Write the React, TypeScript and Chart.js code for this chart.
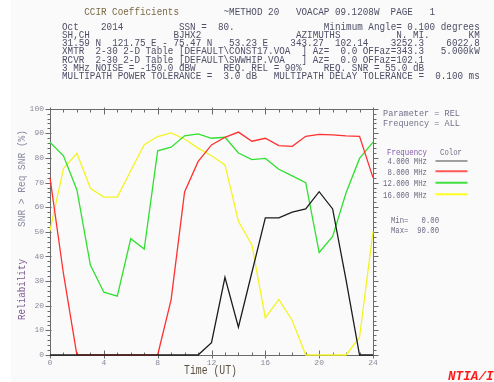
import React, { useEffect, useRef } from "react";
import { Chart, registerables } from "chart.js";

Chart.register(...registerables);

// ---------- data ----------
const hours = [0, 1, 2, 3, 4, 5, 6, 7, 8, 9, 10, 11, 12, 13, 14, 15, 16, 17, 18, 19, 20, 21, 22, 23, 24];
const rel4MHz = [0, 0, 0, 0, 0, 0, 0, 0, 0, 0, 0, 0, 5, 31.5, 11.3, 33.5, 55.7, 55.7, 58, 59.3, 66.3, 59.3, 30.4, 0, 0];
const rel8MHz = [72, 33, 0, 0, 0, 0, 0, 0, 0, 22.5, 66.2, 78.5, 85.3, 88.4, 90.5, 86.8, 88, 85, 84.7, 88.8, 89.6, 89.4, 89, 88.8, 72];
const rel12MHz = [86.4, 80.9, 67, 36.5, 25.5, 23.9, 47.2, 43, 82.9, 84.4, 89, 89.8, 88, 88.4, 82, 79.3, 79.8, 75.4, 72.7, 70, 41.6, 48.1, 65.9, 79.8, 86.4];
const rel16MHz = [50.5, 75.7, 81.9, 67.7, 64.1, 64.1, 74.8, 85.4, 88.7, 90.2, 87.7, 84, 80.9, 77.2, 54.3, 44.7, 15.1, 22.6, 14, 0, 0, 0, 0, 7.2, 50.2];
const seriesLabels = ["4.000 MHz", "8.000 MHz", "12.000 MHz", "16.000 MHz"];
const xTickValues = [0, 4, 8, 12, 16, 20, 24];
const yTickValues = [0, 10, 20, 30, 40, 50, 60, 70, 80, 90, 100];

// header text lines (fixed-column report)
const titleMain = "CCIR Coefficients";
const titleRest = "~METHOD 20   VOACAP 09.1208W  PAGE   1";
const headerLines = [
  "Oct    2014          SSN =  80.                Minimum Angle= 0.100 degrees",
  "SH,CH               BJHX2                 AZIMUTHS          N. MI.       KM",
  "31.59 N  121.75 E - 75.47 N   53.23 E    343.27  102.14    3252.3    6022.8",
  "XMTR  2-30 2-D Table [DEFAULT\\CONST17.VOA  ] Az=  0.0 OFFaz=343.3   5.000kW",
  "RCVR  2-30 2-D Table [DEFAULT\\SWWHIP.VOA   ] Az=  0.0 OFFaz=102.1",
  "3 MHz NOISE = -150.0 dBW     REQ. REL = 90%    REQ. SNR = 55.0 dB",
  "MULTIPATH POWER TOLERANCE =  3.0 dB   MULTIPATH DELAY TOLERANCE =  0.100 ms",
];

// ---------- styles / layout ----------
const lineColors = ["#1c1c1c", "#ff3030", "#30e030", "#f4f424"];
const swatchColors = ["#a0a0a0", "#ff5a5a", "#40e040", "#ffff20"];
const HEADER_FILL = "#4e4e66";
const MONO = "'Liberation Mono', 'DejaVu Sans Mono', monospace";
const HFS = 10.2;
const CW = 5.57;
const HX = 62;
const headerBaselines = [30, 38.2, 46.2, 54.4, 62.5, 70.5, 78.5];

const framePlugin = {
  id: "voacapFrame",
  beforeDatasetsDraw(chart: any) {
    const { ctx, chartArea } = chart;
    const xs = chart.scales.x;
    const ys = chart.scales.y;
    const L = Math.round(chartArea.left) + 0.5;
    const R = Math.round(chartArea.right) + 0.5;
    const T = Math.round(chartArea.top) + 0.5;
    const B = Math.round(chartArea.bottom) + 0.5;
    ctx.save();
    ctx.lineWidth = 1;
    ctx.strokeStyle = "#6a6a6a";
    ctx.beginPath();
    ctx.rect(L, T, R - L, B - T);
    ctx.stroke();
    ctx.beginPath();
    for (let v = 0; v <= 100; v += 2) {
      const y = Math.round(ys.getPixelForValue(v)) + 0.5;
      const major = v % 10 === 0;
      ctx.moveTo(L - (major ? 5 : 3), y);
      ctx.lineTo(L + (major ? 1 : 0), y);
      ctx.moveTo(R, y);
      ctx.lineTo(R + (major ? 5 : 3), y);
    }
    for (let h = 0; h <= 24; h += 1) {
      const x = Math.round(xs.getPixelForValue(h)) + 0.5;
      const major = h % 4 === 0;
      ctx.moveTo(x, B + (major ? 3 : 0));
      ctx.lineTo(x, B - (major ? 5 : 3));
      ctx.moveTo(x, T - (major ? 2 : 0));
      ctx.lineTo(x, T + (major ? 5 : 3));
    }
    ctx.stroke();
    ctx.restore();
  },
};

export default function App() {
  const canvasRef = useRef<HTMLCanvasElement | null>(null);

  useEffect(() => {
    const series = [rel4MHz, rel8MHz, rel12MHz, rel16MHz];
    const chart = new Chart(canvasRef.current as HTMLCanvasElement, {
      type: "line",
      data: {
        datasets: series.map((vals, i) => ({
          label: seriesLabels[i],
          data: hours.map((h, j) => ({ x: h, y: vals[j] })),
          borderColor: lineColors[i],
          backgroundColor: lineColors[i],
          borderWidth: 1.3,
          pointRadius: 0,
          tension: 0,
          clip: 3,
        })),
      },
      options: {
        animation: false,
        responsive: false,
        devicePixelRatio: 1,
        events: [],
        layout: { padding: { top: 108.7, right: 121, left: 0, bottom: 0 } },
        plugins: { legend: { display: false }, tooltip: { enabled: false }, title: { display: false } },
        scales: {
          x: {
            type: "linear",
            min: 0,
            max: 24,
            afterBuildTicks: (s: any) => {
              s.ticks = xTickValues.map((v) => ({ value: v }));
            },
            afterFit: (s: any) => {
              s.height = 27;
            },
            grid: { display: false, drawTicks: false },
            border: { display: false },
            ticks: { padding: 3, color: "#8a8a9a", font: { family: MONO, size: 8 }, maxRotation: 0, autoSkip: false },
          },
          y: {
            type: "linear",
            min: 0,
            max: 100,
            afterBuildTicks: (s: any) => {
              s.ticks = yTickValues.map((v) => ({ value: v }));
            },
            afterFit: (s: any) => {
              s.width = 50;
            },
            grid: { display: false, drawTicks: false },
            border: { display: false },
            ticks: { padding: 6, color: "#8a8a9a", font: { family: MONO, size: 8 }, autoSkip: false },
          },
        },
      },
      plugins: [framePlugin],
    } as any);
    return () => chart.destroy();
  }, []);

  const legendY = [161, 171.3, 182.7, 194.3];
  const pre = { whiteSpace: "pre" as const };

  return (
    <div style={{ position: "absolute", left: 0, top: 0, width: 494, height: 382, background: "#ffffff", overflow: "hidden" }}>
      <div style={{ position: "absolute", left: 11, top: 0, width: 483, height: 382, background: "#fafafa" }} />
      <canvas ref={canvasRef} width={494} height={382} style={{ position: "absolute", left: 0, top: 0, width: 494, height: 382 }} />
      <svg width={494} height={382} style={{ position: "absolute", left: 0, top: 0, pointerEvents: "none" }} fontFamily={MONO}>
        <text x={HX + 4 * CW} y={14.5} fontSize={HFS} fill="#7a6a44" textLength={titleMain.length * CW} lengthAdjust="spacingAndGlyphs" style={pre}>{titleMain}</text>
        <text x={HX + 29 * CW} y={14.5} fontSize={HFS} fill={HEADER_FILL} textLength={titleRest.length * CW} lengthAdjust="spacingAndGlyphs" style={pre}>{titleRest}</text>
        {headerLines.map((t, i) => (
          <text key={i} x={HX} y={headerBaselines[i]} fontSize={HFS} fill={HEADER_FILL} textLength={t.length * CW} lengthAdjust="spacingAndGlyphs" style={pre}>
            {t}
          </text>
        ))}
        <text x={383} y={116} fontSize={9.5} fill="#70708a" textLength={77} lengthAdjust="spacingAndGlyphs">Parameter = REL</text>
        <text x={383} y={126} fontSize={9.5} fill="#70708a" textLength={77} lengthAdjust="spacingAndGlyphs">Frequency = ALL</text>
        <text x={387} y={155} fontSize={9.5} fill="#8458a8" textLength={40} lengthAdjust="spacingAndGlyphs">Frequency</text>
        <text x={440} y={155} fontSize={9.5} fill="#70708a" textLength={22} lengthAdjust="spacingAndGlyphs">Color</text>
        {seriesLabels.map((lab, i) => (
          <g key={lab}>
            <text x={427 - lab.length * 4.4} y={legendY[i] + 3.3} fontSize={9.5} fill="#6a6a84" textLength={lab.length * 4.4} lengthAdjust="spacingAndGlyphs">{lab}</text>
            <line x1={435.5} x2={467.5} y1={legendY[i]} y2={legendY[i]} stroke={swatchColors[i]} strokeWidth={2} />
          </g>
        ))}
        <text x={391} y={223} fontSize={9.5} fill="#6a6a84" textLength={48} lengthAdjust="spacingAndGlyphs" style={pre}>Min=   0.00</text>
        <text x={391} y={233} fontSize={9.5} fill="#6a6a84" textLength={48} lengthAdjust="spacingAndGlyphs" style={pre}>Max=  90.00</text>
        <text x={25} y={320} fontSize={11} fill="#7e5a92" transform="rotate(-90 25 320)" textLength={61} lengthAdjust="spacingAndGlyphs">Reliability</text>
        <text x={25} y={227} fontSize={11} fill="#8a8aa2" transform="rotate(-90 25 227)" textLength={97} lengthAdjust="spacingAndGlyphs">SNR &gt; Req SNR (%)</text>
        <text x={184} y={374} fontSize={12} fill="#5c5244" textLength={53} lengthAdjust="spacingAndGlyphs">Time (UT)</text>
        <text x={448} y={380} fontSize={12.7} fill="#ff1a1a" fontWeight="bold" fontStyle="italic">NTIA/ITS</text>
      </svg>
    </div>
  );
}
